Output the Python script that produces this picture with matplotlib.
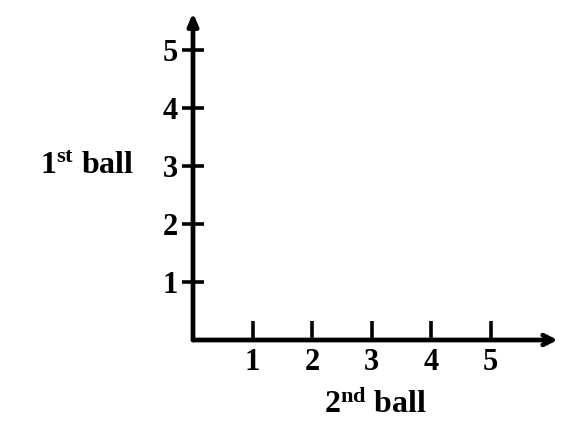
import matplotlib
matplotlib.use("Agg")
import matplotlib.pyplot as plt

x_ticks = [1, 2, 3, 4, 5]
y_ticks = [1, 2, 3, 4, 5]
x_tick_labels = ["1", "2", "3", "4", "5"]
y_tick_labels = ["1", "2", "3", "4", "5"]
x_label = r"2$^{\mathrm{nd}}$ ball"
y_label = r"1$^{\mathrm{st}}$ ball"

plt.rcParams['font.family'] = ['Liberation Serif', 'DejaVu Serif']
plt.rcParams['font.weight'] = 'bold'
plt.rcParams['mathtext.fontset'] = 'custom'
plt.rcParams['mathtext.rm'] = 'Liberation Serif:bold'
plt.rcParams['mathtext.it'] = 'Liberation Serif:bold'
plt.rcParams['mathtext.bf'] = 'Liberation Serif:bold'

W, H = 563, 426
fig = plt.figure(figsize=(W / 100, H / 100), dpi=100)

xmax, ymax = 6.2, 5.7
ox, oy = 193, 340
ux, uy = 59.5, 58.0
ax = fig.add_axes([ox / W, 1 - oy / H, xmax * ux / W, ymax * uy / H])
ax.set_xlim(0, xmax)
ax.set_ylim(0, ymax)
for s in ax.spines.values():
    s.set_visible(False)
ax.patch.set_alpha(0)

# axes with arrows
ax.annotate("", xy=(6.13, 0), xytext=(0, 0), xycoords='data',
            arrowprops=dict(arrowstyle="->,head_length=0.7,head_width=0.35",
                            lw=3.4, color='black', shrinkA=0, shrinkB=0),
            annotation_clip=False)
ax.annotate("", xy=(0, 5.64), xytext=(0, 0), xycoords='data',
            arrowprops=dict(arrowstyle="-|>,head_length=0.7,head_width=0.3",
                            lw=3.4, color='black', shrinkA=0, shrinkB=0),
            annotation_clip=False)

ax.set_xticks(x_ticks)
ax.set_xticklabels(x_tick_labels)
ax.set_yticks(y_ticks)
ax.set_yticklabels(y_tick_labels)
ax.tick_params(axis='x', direction='in', length=14, width=2.6, pad=6,
               labelsize=22, color='black')
ax.tick_params(axis='y', direction='inout', length=16, width=2.6, pad=3,
               labelsize=22, color='black')
for lab in ax.get_xticklabels() + ax.get_yticklabels():
    lab.set_fontweight('bold')

fig.text(40 / W, 1 - 166 / H, y_label, ha='left', va='center',
         fontsize=23, fontweight='bold')
fig.text(375 / W, 1 - 405 / H, x_label, ha='center', va='center',
         fontsize=23, fontweight='bold')

fig.savefig("out.png", dpi=100)
